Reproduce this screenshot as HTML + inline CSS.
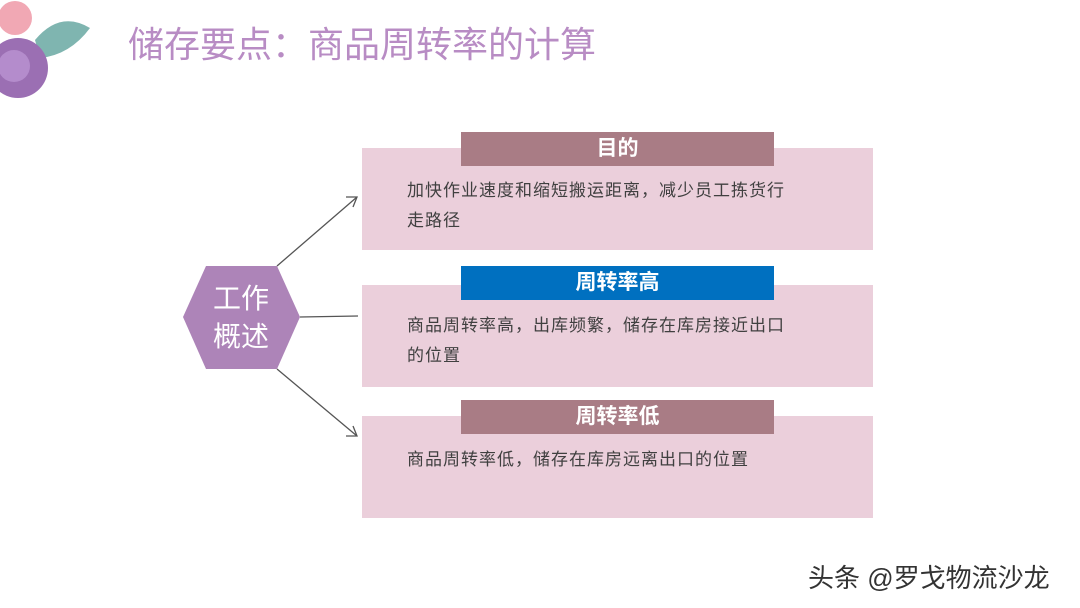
<!DOCTYPE html>
<html><head><meta charset="utf-8"><style>
body{margin:0;width:1080px;height:608px;background:#fff;position:relative;overflow:hidden;font-family:"Liberation Sans","Noto Sans CJK SC",sans-serif}
.t{position:absolute;left:128px;top:16px;font-size:36px;color:#b88cc4}
.box{position:absolute;left:362px;width:511px;height:102px;background:#ebcfdb}
.hd{position:absolute;left:461px;width:313px;height:34px;color:#fff;font-weight:bold;font-size:21px;text-align:center;line-height:34px}
.tx{position:absolute;left:407px;width:440px;font-size:17px;letter-spacing:1px;color:#404040;line-height:30px}
.wm{position:absolute;left:808px;top:558px;font-size:26px;color:#333}
</style></head><body>
<svg width="140" height="120" style="position:absolute;left:0;top:0">
<path d="M35 40 Q60 10 90 28 Q70 55 40 58 Z" fill="#7fb5b0"/>
<circle cx="15" cy="18" r="17" fill="#f1a8b4"/>
<circle cx="18" cy="68" r="30" fill="#9b6fb3"/>
<circle cx="14" cy="66" r="16" fill="#b48ccc"/>
</svg>
<div class="t">储存要点：商品周转率的计算</div>
<svg width="1080" height="608" style="position:absolute;left:0;top:0">
<polygon points="183,317 206,266 277,266 300,317 277,369 206,369" fill="#ad84b8"/>
<g stroke="#555" stroke-width="1.3" fill="none">
<line x1="277" y1="266" x2="357" y2="197"/><polyline points="346,197 357,197 353,207"/>
<line x1="300" y1="317" x2="358" y2="316"/>
<line x1="277" y1="369" x2="357" y2="436"/><polyline points="353,426 357,436 346,436"/>
</g>
<text x="241" y="308" font-size="28" fill="#fff" text-anchor="middle" font-family="Liberation Sans,Noto Sans CJK SC,sans-serif">工作</text>
<text x="241" y="346" font-size="28" fill="#fff" text-anchor="middle" font-family="Liberation Sans,Noto Sans CJK SC,sans-serif">概述</text>
</svg>
<div class="box" style="top:148px"></div>
<div class="hd" style="top:132px;background:#a97c85">目的</div>
<div class="tx" style="top:176px">加快作业速度和缩短搬运距离，减少员工拣货行<br>走路径</div>
<div class="box" style="top:285px"></div>
<div class="hd" style="top:266px;background:#0070c0">周转率高</div>
<div class="tx" style="top:311px">商品周转率高，出库频繁，储存在库房接近出口<br>的位置</div>
<div class="box" style="top:416px"></div>
<div class="hd" style="top:400px;background:#a97c85">周转率低</div>
<div class="tx" style="top:445px">商品周转率低，储存在库房远离出口的位置</div>
<div class="wm">头条 @罗戈物流沙龙</div>
</body></html>
